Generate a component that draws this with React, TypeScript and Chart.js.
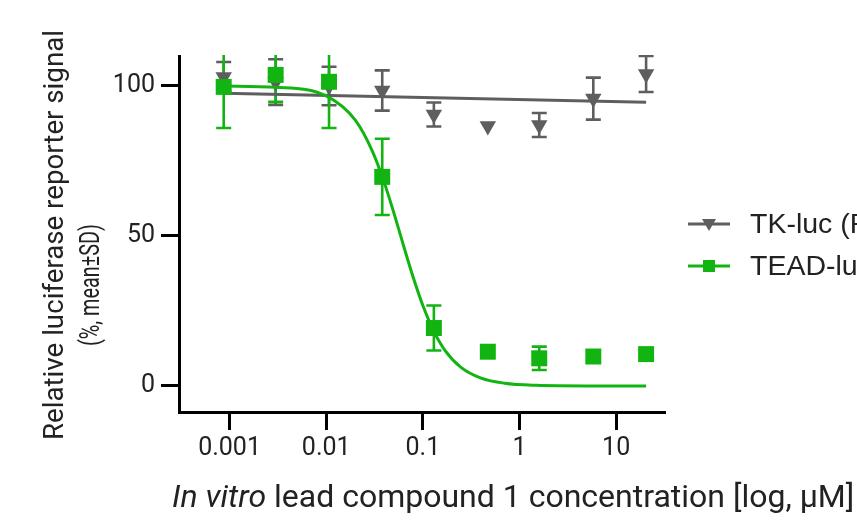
import React, { useEffect, useRef } from 'react';
import { Chart, registerables } from 'chart.js';

Chart.register(...registerables);

// ---- data ----
const CONC = [0.00087, 0.003, 0.0107, 0.038, 0.13, 0.47, 1.6, 5.8, 20.4];

const TK_MEAN = [103, 101.3, 100, 98.5, 90.5, 86.7, 87, 95.8, 104];
const TK_SD = [5, 7.6, 6.4, 6.7, 4, 0, 4, 7, 6];

const TEAD_MEAN = [99.7, 103.7, 101.4, 69.7, 19.3, 11.4, 9.2, 9.8, 10.6];
const TEAD_SD = [13.7, 9, 15.4, 12.7, 7.5, 0, 3.9, 0, 0];

const TK_FIT_X = [0.00087, 20.4];
const TK_FIT_Y = [97.6, 94.6];

const TEAD_FIT_X = [0.00087, 0.003, 0.01, 0.02, 0.03, 0.04, 0.05, 0.06, 0.07, 0.08, 0.1, 0.13, 0.17, 0.25, 0.4, 0.7, 1.5, 5, 20.4];
const TEAD_FIT_Y = [100, 99.6, 96.7, 88.6, 78.3, 67.7, 57.8, 49.2, 41.9, 35.9, 26.8, 18.2, 11.8, 6.1, 2.6, 0.9, 0.2, 0, 0];

const X_TICKS = [0.001, 0.01, 0.1, 1, 10];
const X_TICK_LABELS = ['0.001', '0.01', '0.1', '1', '10'];
const Y_TICKS = [0, 50, 100];
const Y_TICK_LABELS = ['0', '50', '100'];

const SERIES_NAMES = ['TK-luc (Renilla)', 'TEAD-luc (Firefly)'];
const X_TITLE_ITALIC = 'In vitro';
const X_TITLE_REST = ' lead compound 1 concentration [log, µM]';
const Y_TITLE = ['Relative luciferase reporter signal', '(%, mean±SD)'];

// ---- axis ranges / style ----
const X_MIN = 0.000313;
const X_MAX = 32;
const Y_MIN = -8.7;
const Y_MAX = 110;

const GRAY = '#5e5e5e';
const GREEN = '#12b412';
const TEXT = '#222222';
const FONT = 'Roboto, "Liberation Sans", sans-serif';
const LEGEND_FONT = '"Liberation Sans", Arial, sans-serif';

const CANVAS_W = 1000;
const CANVAS_H = 524;

const errorBarPlugin = {
  id: 'errorBars',
  beforeDatasetsDraw(chart: any) {
    const { ctx, chartArea } = chart;
    const x = chart.scales.x;
    const y = chart.scales.y;
    ctx.save();
    ctx.beginPath();
    ctx.rect(chartArea.left, chartArea.top - 1, chartArea.right - chartArea.left, chartArea.bottom - chartArea.top + 1);
    ctx.clip();
    const groups: [number[], number[], string][] = [
      [TK_MEAN, TK_SD, GRAY],
      [TEAD_MEAN, TEAD_SD, GREEN],
    ];
    for (const [means, sds, color] of groups) {
      ctx.strokeStyle = color;
      ctx.lineWidth = 2.6;
      for (let i = 0; i < CONC.length; i++) {
        if (!sds[i]) continue;
        const px = x.getPixelForValue(CONC[i]);
        const pTop = y.getPixelForValue(means[i] + sds[i]);
        const pBot = y.getPixelForValue(means[i] - sds[i]);
        ctx.beginPath();
        ctx.moveTo(px, pTop);
        ctx.lineTo(px, pBot);
        ctx.moveTo(px - 7.5, pTop);
        ctx.lineTo(px + 7.5, pTop);
        ctx.moveTo(px - 7.5, pBot);
        ctx.lineTo(px + 7.5, pBot);
        ctx.stroke();
      }
    }
    ctx.restore();
  },
};

function drawRotatedFit(ctx: any, text: string, cx: number, cy: number, length: number) {
  ctx.save();
  ctx.translate(cx, cy);
  ctx.rotate(-Math.PI / 2);
  const w = ctx.measureText(text).width;
  ctx.scale(length / w, 1);
  ctx.fillText(text, 0, 0);
  ctx.restore();
}

const textPlugin = {
  id: 'texts',
  afterDraw(chart: any) {
    const { ctx } = chart;
    ctx.save();
    ctx.fillStyle = TEXT;

    // y axis title (two rotated lines)
    ctx.font = `27px ${FONT}`;
    ctx.textAlign = 'center';
    ctx.textBaseline = 'middle';
    drawRotatedFit(ctx, Y_TITLE[0], 56, 235, 410);
    drawRotatedFit(ctx, Y_TITLE[1], 92, 285, 122);

    // x axis title with italic part
    ctx.textAlign = 'left';
    ctx.textBaseline = 'alphabetic';
    ctx.font = `italic 32px ${FONT}`;
    const x0 = 172;
    const yb = 507;
    ctx.fillText(X_TITLE_ITALIC, x0, yb);
    const w = ctx.measureText(X_TITLE_ITALIC).width;
    ctx.font = `32px ${FONT}`;
    ctx.fillText(X_TITLE_REST, x0 + w, yb);

    // legend
    const rows = [
      { name: SERIES_NAMES[0], color: GRAY, shape: 'tri', y: 224 },
      { name: SERIES_NAMES[1], color: GREEN, shape: 'sq', y: 266 },
    ];
    ctx.font = `28.5px ${LEGEND_FONT}`;
    ctx.textBaseline = 'middle';
    for (const r of rows) {
      ctx.strokeStyle = r.color;
      ctx.lineWidth = 3;
      ctx.beginPath();
      ctx.moveTo(688, r.y);
      ctx.lineTo(730, r.y);
      ctx.stroke();
      ctx.fillStyle = r.color;
      ctx.beginPath();
      if (r.shape === 'tri') {
        ctx.moveTo(702, r.y - 5);
        ctx.lineTo(716, r.y - 5);
        ctx.lineTo(709, r.y + 7);
        ctx.closePath();
      } else {
        ctx.rect(703, r.y - 6, 12, 12);
      }
      ctx.fill();
      ctx.fillStyle = TEXT;
      ctx.fillText(r.name, 750, r.y + 1);
    }
    ctx.restore();
  },
};

export default function App() {
  const canvasRef = useRef<HTMLCanvasElement | null>(null);

  useEffect(() => {
    const canvas = canvasRef.current;
    if (!canvas) return;
    const pts = (xs: number[], ys: number[]) => xs.map((v, i) => ({ x: v, y: ys[i] }));

    const chart = new Chart(canvas, {
      type: 'line',
      data: {
        datasets: [
          {
            label: SERIES_NAMES[0] + ' fit',
            data: pts(TK_FIT_X, TK_FIT_Y),
            borderColor: GRAY,
            borderWidth: 3,
            pointRadius: 0,
            fill: false,
            order: 4,
          },
          {
            label: SERIES_NAMES[0],
            data: pts(CONC, TK_MEAN),
            showLine: false,
            pointStyle: 'triangle',
            rotation: 180,
            pointRadius: 9.5,
            pointBackgroundColor: GRAY,
            pointBorderColor: GRAY,
            pointBorderWidth: 0,
            order: 3,
          },
          {
            label: SERIES_NAMES[1] + ' fit',
            data: pts(TEAD_FIT_X, TEAD_FIT_Y),
            borderColor: GREEN,
            borderWidth: 3,
            pointRadius: 0,
            cubicInterpolationMode: 'monotone',
            fill: false,
            order: 2,
          },
          {
            label: SERIES_NAMES[1],
            data: pts(CONC, TEAD_MEAN),
            showLine: false,
            pointStyle: 'rect',
            pointRadius: 11.3,
            pointBackgroundColor: GREEN,
            pointBorderColor: GREEN,
            pointBorderWidth: 0,
            order: 1,
          },
        ],
      },
      options: {
        animation: false,
        responsive: false,
        devicePixelRatio: 1,
        events: [],
        layout: { padding: { left: 0, top: 56, right: CANVAS_W - 665, bottom: 0 } },
        plugins: {
          legend: { display: false },
          tooltip: { enabled: false },
          title: { display: false },
        },
        scales: {
          x: {
            type: 'logarithmic',
            min: X_MIN,
            max: X_MAX,
            afterFit(scale: any) {
              scale.height = CANVAS_H - 412;
            },
            afterBuildTicks(scale: any) {
              scale.ticks = X_TICKS.map((v) => ({ value: v }));
            },
            ticks: {
              autoSkip: false,
              maxRotation: 0,
              padding: 4,
              color: TEXT,
              font: { family: FONT, size: 25 },
              callback: (v: any) => {
                const i = X_TICKS.indexOf(Number(v));
                return i >= 0 ? X_TICK_LABELS[i] : '';
              },
            },
            grid: {
              display: true,
              drawOnChartArea: false,
              drawTicks: true,
              tickLength: 18,
              tickWidth: 3,
              tickColor: '#000',
            },
            border: { display: true, width: 3, color: '#000' },
          },
          y: {
            type: 'linear',
            min: Y_MIN,
            max: Y_MAX,
            afterFit(scale: any) {
              scale.width = 179;
            },
            afterBuildTicks(scale: any) {
              scale.ticks = Y_TICKS.map((v) => ({ value: v }));
            },
            ticks: {
              autoSkip: false,
              padding: 6,
              color: TEXT,
              font: { family: FONT, size: 25 },
              callback: (v: any) => {
                const i = Y_TICKS.indexOf(Number(v));
                return i >= 0 ? Y_TICK_LABELS[i] : '';
              },
            },
            grid: {
              display: true,
              drawOnChartArea: false,
              drawTicks: true,
              tickLength: 18,
              tickWidth: 3,
              tickColor: '#000',
            },
            border: { display: true, width: 3, color: '#000' },
          },
        },
      } as any,
      plugins: [errorBarPlugin, textPlugin],
    });

    return () => chart.destroy();
  }, []);

  return (
    <div
      style={{
        position: 'absolute',
        left: 0,
        top: 0,
        width: 857,
        height: 524,
        overflow: 'hidden',
        background: '#ffffff',
      }}
    >
      <canvas ref={canvasRef} width={CANVAS_W} height={CANVAS_H} style={{ display: 'block', width: CANVAS_W, height: CANVAS_H }} />
    </div>
  );
}
